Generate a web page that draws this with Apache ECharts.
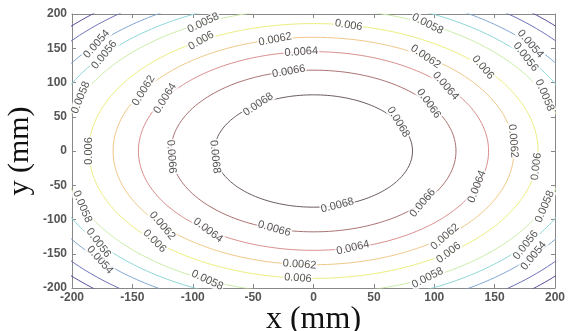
<!DOCTYPE html>
<html>
<head>
<meta charset="utf-8">
<script src="https://cdn.jsdelivr.net/npm/echarts@6/dist/echarts.min.js"></script>
<style>
  html, body { margin: 0; padding: 0; background: #fff; }
  #chart { width: 568px; height: 331px; }
</style>
</head>
<body>
<div id="chart"></div>
<script>
// contour levels, radius of each contour (mm)
const levels = [0.005, 0.0052, 0.0054, 0.0056, 0.0058, 0.006, 0.0062, 0.0064, 0.0066, 0.0068];
const radii = [271, 257, 238, 223, 208, 186, 166, 145, 118, 82];
// where the inline labels sit on each contour (degrees, counterclockwise from +x)
const labelAngles = [
  [],
  [],
  [41, 139, 222, 320],
  [38, 141, 217, 322],
  [23, 63, 116, 158, 203, 245, 297, 337],
  [41, 81, 120, 180, 225, 266, 307, 353],
  [5, 56, 101, 148, 221, 266, 311],
  [41, 94, 148, 233, 283, 339],
  [36, 100, 184, 254, 320],
  [31, 124, 186, 284]
];
const xTicks = [-200, -150, -100, -50, 0, 50, 100, 150, 200];
const yTicks = [-200, -150, -100, -50, 0, 50, 100, 150, 200];

const lineColors = ['#5a4c9a', '#6e70b8', '#7fa6cf', '#8fd6d6', '#cbeca8', '#eded80',
  '#f0c888', '#d98e8e', '#a8706e', '#6a5c5c'];

const chart = echarts.init(document.getElementById('chart'));

function circlePoints(r) {
  const pts = [];
  for (let a = 0; a <= 360; a += 1) {
    const t = a * Math.PI / 180;
    pts.push([r * Math.cos(t), r * Math.sin(t)]);
  }
  return pts;
}

function labelRotate(a) {
  let r = a - 90;
  while (r > 90) r -= 180;
  while (r < -90) r += 180;
  return r;
}

const series = [];
levels.forEach((lv, i) => {
  series.push({
    type: 'line',
    data: circlePoints(radii[i]),
    showSymbol: false,
    silent: true,
    clip: true,
    lineStyle: { color: lineColors[i], width: 1 },
    z: 2
  });
});

const labelData = [];
levels.forEach((lv, i) => {
  labelAngles[i].forEach(a => {
    const t = a * Math.PI / 180;
    labelData.push({
      value: [radii[i] * Math.cos(t), radii[i] * Math.sin(t)],
      name: String(lv),
      label: { rotate: labelRotate(a) }
    });
  });
});
series.push({
  type: 'scatter',
  data: labelData,
  symbolSize: 1,
  itemStyle: { color: 'rgba(0,0,0,0)' },
  silent: true,
  z: 5,
  label: {
    show: true,
    position: 'inside',
    formatter: p => p.name,
    fontFamily: 'Liberation Sans, Arial, sans-serif',
    fontSize: 11,
    color: '#2a2a2a',
    backgroundColor: '#fff',
    padding: [0, 1]
  }
});

const tickStyle = { show: true, inside: true, length: 4, lineStyle: { color: '#888' } };
const lineAxis = { show: true, onZero: false, lineStyle: { color: '#888', width: 1 } };
const labelStyle = {
  fontFamily: 'Liberation Sans, Arial, sans-serif',
  fontSize: 12,
  fontWeight: 'bold',
  color: '#555'
};

const option = {
  animation: false,
  backgroundColor: '#fff',
  grid: { left: 72, right: 13, top: 14, bottom: 43, outerBoundsMode: 'none', containLabel: false },
  xAxis: [{
    type: 'value', min: -200, max: 200, interval: 50,
    name: 'x (mm)', nameLocation: 'middle', nameGap: 16, nameMoveOverlap: false,
    nameTextStyle: { fontFamily: 'Liberation Serif, Times New Roman, serif', fontSize: 32, color: '#111', verticalAlign: 'top' },
    axisLine: lineAxis, axisTick: tickStyle,
    axisLabel: Object.assign({ margin: 4, formatter: v => xTicks.includes(v) ? String(v) : '' }, labelStyle),
    splitLine: { show: false }
  }, {
    type: 'value', min: -200, max: 200, interval: 50, position: 'top',
    axisLine: lineAxis, axisTick: tickStyle, axisLabel: { show: false }, splitLine: { show: false }
  }],
  yAxis: [{
    type: 'value', min: -200, max: 200, interval: 50,
    name: 'y (mm)', nameLocation: 'middle', nameGap: 37, nameRotate: 90, nameMoveOverlap: false,
    nameTextStyle: { fontFamily: 'Liberation Serif, Times New Roman, serif', fontSize: 30, color: '#111' },
    axisLine: lineAxis, axisTick: tickStyle,
    axisLabel: Object.assign({ margin: 5, formatter: v => yTicks.includes(v) ? String(v) : '' }, labelStyle),
    splitLine: { show: false }
  }, {
    type: 'value', min: -200, max: 200, interval: 50, position: 'right',
    axisLine: lineAxis, axisTick: tickStyle, axisLabel: { show: false }, splitLine: { show: false }
  }],
  series: series
};

chart.setOption(option);
</script>
</body>
</html>
